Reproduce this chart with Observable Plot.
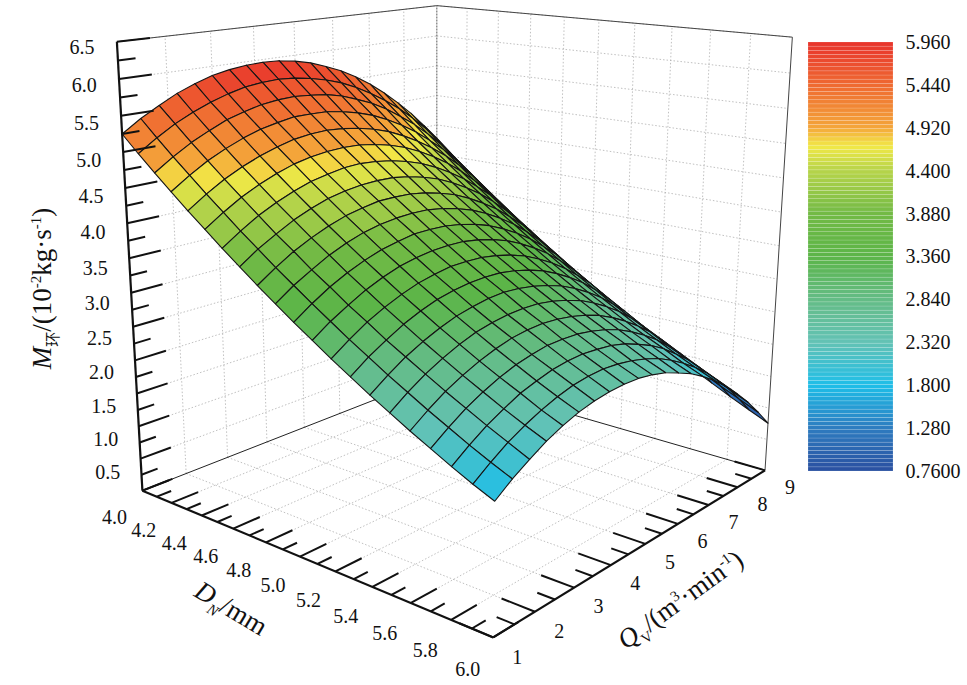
<!DOCTYPE html>
<html><head><meta charset="utf-8">
<script src="https://cdn.jsdelivr.net/npm/d3@7"></script>
<script src="https://cdn.jsdelivr.net/npm/@observablehq/plot@0.6"></script>
<style>
body{margin:0;background:#fff;}
#wrap{position:relative;width:967px;height:685px;}
#cb{position:absolute;left:790px;top:0;}
svg text{font-family:"Liberation Serif","Times New Roman",serif;}
</style></head><body><div id="wrap"><div id="main"></div><div id="cb"></div></div>
<script>
// ---------------- data ----------------
const D_VALUES = [4.0,4.1,4.2,4.3,4.4,4.5,4.6,4.7,4.8,4.9,5.0,5.1,5.2,5.3,5.4,5.5,5.6,5.7,5.8,5.9,6.0];
const Q_VALUES = [1.0,1.4,1.8,2.2,2.6,3.0,3.4,3.8,4.2,4.6,5.0,5.4,5.8,6.2,6.6,7.0,7.4,7.8,8.2,8.6,9.0];
// M values: one row per D value, one column per Q value
const M_VALUES = [
 [5.25,5.42,5.56,5.69,5.79,5.87,5.92,5.95,5.96,5.95,5.91,5.85,5.76,5.66,5.53,5.38,5.20,5.00,4.78,4.53,4.27],
 [5.02,5.19,5.34,5.46,5.56,5.64,5.70,5.73,5.74,5.72,5.68,5.62,5.54,5.43,5.30,5.15,4.98,4.78,4.56,4.31,4.04],
 [4.80,4.97,5.12,5.24,5.35,5.42,5.48,5.51,5.52,5.50,5.47,5.41,5.32,5.22,5.09,4.93,4.76,4.56,4.34,4.09,3.82],
 [4.59,4.76,4.91,5.03,5.13,5.21,5.26,5.30,5.30,5.29,5.25,5.19,5.11,5.00,4.87,4.72,4.54,4.35,4.12,3.88,3.61],
 [4.38,4.55,4.70,4.82,4.92,5.00,5.06,5.09,5.10,5.08,5.04,4.98,4.90,4.79,4.66,4.51,4.34,4.14,3.92,3.67,3.40],
 [4.18,4.35,4.50,4.62,4.72,4.80,4.85,4.88,4.89,4.88,4.84,4.78,4.70,4.59,4.46,4.31,4.13,3.93,3.71,3.47,3.20],
 [3.98,4.15,4.30,4.42,4.52,4.60,4.65,4.69,4.70,4.68,4.64,4.58,4.50,4.39,4.26,4.11,3.93,3.74,3.51,3.27,3.00],
 [3.79,3.96,4.10,4.23,4.33,4.41,4.46,4.49,4.50,4.49,4.45,4.39,4.31,4.20,4.07,3.92,3.74,3.54,3.32,3.08,2.81],
 [3.60,3.77,3.92,4.04,4.14,4.22,4.27,4.31,4.31,4.30,4.26,4.20,4.12,4.01,3.88,3.73,3.55,3.36,3.13,2.89,2.62],
 [3.42,3.59,3.73,3.86,3.96,4.04,4.09,4.12,4.13,4.12,4.08,4.02,3.94,3.83,3.70,3.55,3.37,3.17,2.95,2.71,2.44],
 [3.24,3.41,3.56,3.68,3.78,3.86,3.91,3.95,3.95,3.94,3.90,3.84,3.76,3.65,3.52,3.37,3.19,3.00,2.77,2.53,2.26],
 [3.07,3.24,3.38,3.51,3.61,3.69,3.74,3.77,3.78,3.77,3.73,3.67,3.59,3.48,3.35,3.20,3.02,2.82,2.60,2.36,2.09],
 [2.90,3.07,3.22,3.34,3.44,3.52,3.57,3.61,3.61,3.60,3.56,3.50,3.42,3.31,3.18,3.03,2.85,2.66,2.43,2.19,1.92],
 [2.74,2.91,3.05,3.18,3.28,3.36,3.41,3.44,3.45,3.44,3.40,3.34,3.26,3.15,3.02,2.87,2.69,2.49,2.27,2.03,1.76],
 [2.58,2.75,2.90,3.02,3.12,3.20,3.25,3.29,3.30,3.28,3.24,3.18,3.10,2.99,2.86,2.71,2.53,2.34,2.11,1.87,1.60],
 [2.43,2.60,2.75,2.87,2.97,3.05,3.10,3.13,3.14,3.13,3.09,3.03,2.95,2.84,2.71,2.56,2.38,2.18,1.96,1.72,1.45],
 [2.28,2.45,2.60,2.72,2.82,2.90,2.96,2.99,3.00,2.98,2.94,2.88,2.80,2.69,2.56,2.41,2.24,2.04,1.82,1.57,1.30],
 [2.14,2.31,2.46,2.58,2.68,2.76,2.81,2.85,2.85,2.84,2.80,2.74,2.66,2.55,2.42,2.27,2.09,1.90,1.67,1.43,1.16],
 [2.00,2.17,2.32,2.44,2.55,2.62,2.68,2.71,2.72,2.70,2.67,2.61,2.52,2.42,2.29,2.13,1.96,1.76,1.54,1.29,1.02],
 [1.87,2.04,2.19,2.31,2.41,2.49,2.55,2.58,2.59,2.57,2.53,2.47,2.39,2.28,2.15,2.00,1.83,1.63,1.41,1.16,0.89],
 [1.75,1.92,2.06,2.19,2.29,2.37,2.42,2.45,2.46,2.45,2.41,2.35,2.26,2.16,2.03,1.88,1.70,1.50,1.28,1.03,0.76]
];
const Z_TICK_LABELS = ["0.5","1.0","1.5","2.0","2.5","3.0","3.5","4.0","4.5","5.0","5.5","6.0","6.5"];
const D_TICK_LABELS = ["4.0","4.2","4.4","4.6","4.8","5.0","5.2","5.4","5.6","5.8","6.0"];
const Q_TICK_LABELS = ["1","2","3","4","5","6","7","8","9"];
const CB_TICKS = [5.96,5.44,4.92,4.40,3.88,3.36,2.84,2.32,1.80,1.28,0.76];
const CB_TICK_LABELS = ["5.960","5.440","4.920","4.400","3.880","3.360","2.840","2.320","1.800","1.280","0.7600"];
const COLOR_STOPS = [0.76,1.28,1.80,2.32,2.84,3.36,3.88,4.40,4.70,4.92,5.44,5.96];
const COLOR_RANGE = ["#2a50a0","#2e7cc0","#1ebee8","#63c2b5","#64bc86","#5cb548","#72ba45","#b6d44a","#f2e947","#f4a63a","#ef6a31","#e8332c"];

// ---------------- 3D view (perspective camera) ----------------
const VIEW = {azimuth:-0.8752, elevation:0.2715, distance:3.2744, focal:1503.86, cx:459.80, cy:268.35, aspectQ:1.0026, aspectZ:0.9949, roll:0.0043};
const DOM = {D:[4,6], Q:[1,9], Z:[0,6.5]};
function makeCam(o){
  const C=[o.distance*Math.cos(o.elevation)*Math.cos(o.azimuth),o.distance*Math.cos(o.elevation)*Math.sin(o.azimuth),o.distance*Math.sin(o.elevation)];
  const n=Math.hypot(...C), f=C.map(c=>-c/n);
  let r=[f[1],-f[0],0]; const rn=Math.hypot(...r); r=r.map(c=>c/rn);
  const up=[r[1]*f[2]-r[2]*f[1],r[2]*f[0]-r[0]*f[2],r[0]*f[1]-r[1]*f[0]];
  const cr=Math.cos(o.roll), sr=Math.sin(o.roll);
  return (u,v,w)=>{
    const P=[u-0.5,o.aspectQ*(v-0.5),o.aspectZ*(w-0.5)];
    const d=[P[0]-C[0],P[1]-C[1],P[2]-C[2]];
    const xc=d[0]*r[0]+d[1]*r[1]+d[2]*r[2], yc=d[0]*up[0]+d[1]*up[1]+d[2]*up[2], zc=d[0]*f[0]+d[1]*f[1]+d[2]*f[2];
    const sx=o.focal*xc/zc, sy=-o.focal*yc/zc;
    return [o.cx+cr*sx-sr*sy, o.cy+sr*sx+cr*sy, zc];
  };
}
const cam=makeCam(VIEW);
const sD=d3.scaleLinear(DOM.D,[0,1]), sQ=d3.scaleLinear(DOM.Q,[0,1]), sZ=d3.scaleLinear(DOM.Z,[0,1]);
const P3=(D,Q,z)=>cam(sD(D),sQ(Q),sZ(z));
const unit=(a,b)=>{const dx=b[0]-a[0],dy=b[1]-a[1],n=Math.hypot(dx,dy);return [dx/n,dy/n];};

// surface cells, painter's order
const cells=[];
for(let i=0;i<D_VALUES.length-1;i++)for(let j=0;j<Q_VALUES.length-1;j++){
  const idx=[[i,j],[i+1,j],[i+1,j+1],[i,j+1]];
  const pr=idx.map(([a,b])=>P3(D_VALUES[a],Q_VALUES[b],M_VALUES[a][b]));
  cells.push({pr,depth:d3.mean(pr,p=>p[2]),m:d3.mean(idx,([a,b])=>M_VALUES[a][b])});
}
cells.sort((a,b)=>b.depth-a.depth);
const cellPts=[];
cells.forEach((c,k)=>[...c.pr,c.pr[0]].forEach(p=>cellPts.push({id:k,x:p[0],y:p[1],m:c.m})));

const seg=(a,b)=>({x1:a[0],y1:a[1],x2:b[0],y2:b[1]});
const zMaj=d3.range(0.5,6.51,0.5), qMaj=d3.range(2,8.01,1), dMaj=d3.range(4.2,5.81,0.2);
const grid=[];
zMaj.forEach(z=>{grid.push(seg(P3(4,1,z),P3(4,9,z)));grid.push(seg(P3(4,9,z),P3(6,9,z)));});
qMaj.forEach(Q=>{grid.push(seg(P3(4,Q,0),P3(4,Q,6.5)));grid.push(seg(P3(4,Q,0),P3(6,Q,0)));});
dMaj.forEach(D=>{grid.push(seg(P3(D,9,0),P3(D,9,6.5)));grid.push(seg(P3(D,1,0),P3(D,9,0)));});
const backEdges=[seg(P3(4,1,6.5),P3(4,9,6.5)),seg(P3(4,9,6.5),P3(6,9,6.5)),seg(P3(6,9,0),P3(6,9,6.5))];
const backVert=[seg(P3(4,9,0),P3(4,9,6.5))];
const floorEdges=[seg(P3(4,1,0),P3(4,9,0)),seg(P3(4,9,0),P3(6,9,0))];
const axes=[seg(P3(4,1,0),P3(4,1,6.5)),seg(P3(4,1,0),P3(6,1,0)),seg(P3(6,1,0),P3(6,9,0))];
const ticks=[];
d3.range(0,6.51,0.25).forEach((z,k)=>{const L=k%2==0?0.085:0.045;ticks.push(seg(P3(4,1,z),P3(4,1+8*L,z)));});
d3.range(4,6.001,0.1).forEach((D,k)=>{const L=k%2==0?0.075:0.04;ticks.push(seg(P3(D,1,0),P3(D,1+8*L,0)));});
d3.range(1,9.001,0.5).forEach((Q,k)=>{const L=k%2==0?0.08:0.042;ticks.push(seg(P3(6,Q,0),P3(6-2*L,Q,0)));});

const labs=[];
Z_TICK_LABELS.forEach(t=>{const a=P3(4,1,+t),u=unit(a,P3(4,0.5,+t));labs.push({x:a[0]+35*u[0],y:a[1]+35*u[1]+2,t});});
D_TICK_LABELS.forEach(t=>{const a=P3(+t,1,0),u=unit(a,P3(+t,0.5,0));labs.push({x:a[0]+30*u[0],y:a[1]+30*u[1]+16,t});});
Q_TICK_LABELS.forEach(t=>{const a=P3(6,+t,0),u=unit(a,P3(6.2,+t,0));labs.push({x:a[0]+26*u[0],y:a[1]+26*u[1]+10,t});});
const titles=[];
{const a=P3(5,1,0);titles.push({x:a[0]-69,y:a[1]+52,t:"DTITLE",r:31});}
{const a=P3(6,5,0);titles.push({x:a[0]+35,y:a[1]+56,t:"QTITLE",r:-36});}
{const a=P3(4,1,3.25);titles.push({x:a[0]-88,y:a[1]+13,t:"ZTITLE",r:-90});}

const font="Liberation Serif";
const main=Plot.plot({width:967,height:685,margin:0,
 x:{type:"identity",axis:null},y:{type:"identity",axis:null},
 color:{type:"linear",domain:COLOR_STOPS,range:COLOR_RANGE},
 style:"font-family:'Liberation Serif',serif;background:white;overflow:visible;",
 marks:[
  Plot.link(grid,{x1:"x1",y1:"y1",x2:"x2",y2:"y2",stroke:"#b0b0b0",strokeWidth:0.8,strokeDasharray:"1.5,2"}),
  Plot.link(backVert,{x1:"x1",y1:"y1",x2:"x2",y2:"y2",stroke:"#777",strokeWidth:1.2,strokeDasharray:"2,1"}),
  Plot.link(backEdges,{x1:"x1",y1:"y1",x2:"x2",y2:"y2",stroke:"#444",strokeWidth:1}),
  Plot.link(floorEdges,{x1:"x1",y1:"y1",x2:"x2",y2:"y2",stroke:"#222",strokeWidth:1}),
  Plot.line(cellPts,{x:"x",y:"y",z:"id",fill:"m",stroke:"#151515",strokeWidth:1.1,strokeLinejoin:"round"}),
  Plot.link(axes,{x1:"x1",y1:"y1",x2:"x2",y2:"y2",stroke:"#111",strokeWidth:2.2}),
  Plot.link(ticks,{x1:"x1",y1:"y1",x2:"x2",y2:"y2",stroke:"#111",strokeWidth:2}),
  Plot.text(labs,{x:"x",y:"y",text:"t",fontSize:20,fontFamily:font,fill:"#111"}),
  Plot.text(titles,{x:"x",y:"y",text:"t",rotate:"r",fontSize:27,fontFamily:font,fill:"#111"})
 ]});
document.getElementById("main").appendChild(main);
const rich={
 DTITLE:[["D","italic",0],["N","italic",1],["/mm","normal",0]],
 QTITLE:[["Q","italic",0],["V","normal",1],["/(m","normal",0],["3","normal",-1],["·min","normal",0],["-1","normal",-1],[")","normal",0]],
 ZTITLE:[["M","italic",0],["环","normal",1],["/(10","normal",0],["-2","normal",-1],["kg·s","normal",0],["-1","normal",-1],[")","normal",0]]
};
d3.select(main).selectAll("text").each(function(){
  const k=this.textContent; if(!rich[k])return;
  const el=d3.select(this); el.text(""); let cur=0;
  for(const [s,st,sh] of rich[k]){
    const dy=sh===1?7:sh===-1?-10:0;
    const ts=el.append("tspan").text(s).attr("font-style",st).attr("dy",dy-cur);
    if(sh!==0)ts.attr("font-size",15);
    if(s==="环")ts.attr("font-family","Noto Sans CJK SC");
    cur=dy;
  }
});
// ---------------- colour bar ----------------
const bands=d3.range(0.76,5.96-1e-9,0.05).map(lo=>({lo,hi:Math.min(lo+0.05,5.96),m:lo+0.025}));
const cb=Plot.plot({width:177,height:685,marginTop:42,marginBottom:214,marginLeft:18,marginRight:74,
 x:{domain:[0,1],axis:null},y:{domain:[0.76,5.96],axis:null},
 color:{type:"linear",domain:COLOR_STOPS,range:COLOR_RANGE},
 style:"font-family:'Liberation Serif',serif;background:transparent;overflow:visible;",
 marks:[
  Plot.rect(bands,{x1:0,x2:1,y1:"lo",y2:"hi",fill:"m",stroke:"white",strokeOpacity:0.3,strokeWidth:0.5}),
  Plot.axisY({anchor:"right",ticks:CB_TICKS,tickFormat:d=>CB_TICK_LABELS[CB_TICKS.indexOf(d)],tickSize:0,tickPadding:12,fontSize:20,fontFamily:font,fill:"#111"})
 ]});
document.getElementById("cb").appendChild(cb);
</script></body></html>
